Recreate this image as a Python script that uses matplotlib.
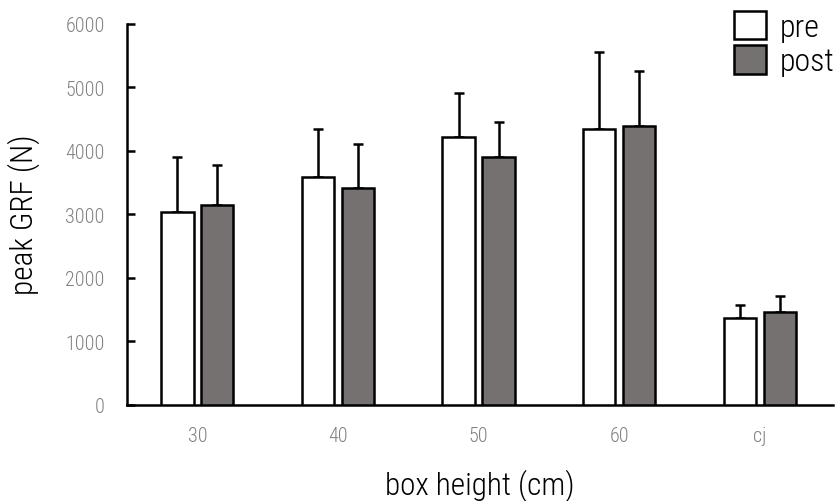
import matplotlib
matplotlib.use("Agg")
import matplotlib.pyplot as plt
from matplotlib import font_manager
from matplotlib.patches import Patch
import numpy as np

categories = ["30", "40", "50", "60", "cj"]
pre_mean = [3035, 3585, 4215, 4345, 1365]
pre_sd = [865, 760, 685, 1210, 205]
post_mean = [3140, 3410, 3895, 4385, 1470]
post_sd = [630, 695, 555, 865, 240]
yticks = [0, 1000, 2000, 3000, 4000, 5000, 6000]

names = {f.name for f in font_manager.fontManager.ttflist}
fam = "DejaVu Sans"
for cand in ["Liberation Sans Narrow", "Roboto Condensed", "Open Sans Condensed", "DejaVu Sans Condensed"]:
    if cand in names:
        fam = cand
        break
plt.rcParams['font.family'] = [fam, 'DejaVu Sans']
stretch = "condensed"
wt = "light"

fig = plt.figure(figsize=(8.37, 5.02), dpi=100)
ax = fig.add_axes([127/837, 1-406/502, (833-127)/837, (406-24.5)/502])

x = np.arange(len(categories))
w = 0.23
off = 0.142
ax.bar(x - off, pre_mean, w, color="white", edgecolor="black", linewidth=1.8, zorder=3, label="pre")
ax.bar(x + off, post_mean, w, color="#767171", edgecolor="black", linewidth=1.8, zorder=3, label="post")
ax.errorbar(x - off, pre_mean, yerr=[np.zeros(len(x)), pre_sd], fmt="none", ecolor="black",
            elinewidth=1.8, capsize=3.5, capthick=1.8, zorder=2)
ax.errorbar(x + off, post_mean, yerr=[np.zeros(len(x)), post_sd], fmt="none", ecolor="black",
            elinewidth=1.8, capsize=3.5, capthick=1.8, zorder=2)

ax.set_xlim(-0.5, 4.52)
ax.set_ylim(0, 6000)
ax.set_yticks(yticks)
ax.set_yticklabels([str(t) for t in yticks], fontstretch=stretch, fontweight=wt)
ax.set_xticks(x)
ax.set_xticklabels(categories, fontstretch=stretch, fontweight=wt)
for s in ["top", "right"]:
    ax.spines[s].set_visible(False)
for s in ["left", "bottom"]:
    ax.spines[s].set_linewidth(1.8)
ax.tick_params(axis="y", direction="in", length=6, width=1.8, colors="black", labelcolor="#808080",
               labelsize=14.5, pad=16)
ax.tick_params(axis="x", length=0, labelcolor="#808080", labelsize=14.5, pad=15)

ax.set_ylabel("peak GRF (N)", fontsize=22.5, labelpad=18, fontstretch=stretch, fontweight=wt)
ax.set_xlabel("box height (cm)", fontsize=22.5, labelpad=17, fontstretch=stretch, fontweight=wt)

handles = [Patch(facecolor="white", edgecolor="black", linewidth=1.8),
           Patch(facecolor="#767171", edgecolor="black", linewidth=1.8)]
fig.legend(handles, ["pre", "post"], loc="upper left", bbox_to_anchor=(724/837, 1-2/502),
           frameon=False, prop={"size": 23, "stretch": stretch, "weight": wt},
           handlelength=1.0, handleheight=1.0,
           handletextpad=0.45, labelspacing=0.1, borderaxespad=0, borderpad=0.3)

fig.savefig("out.png", dpi=100)
